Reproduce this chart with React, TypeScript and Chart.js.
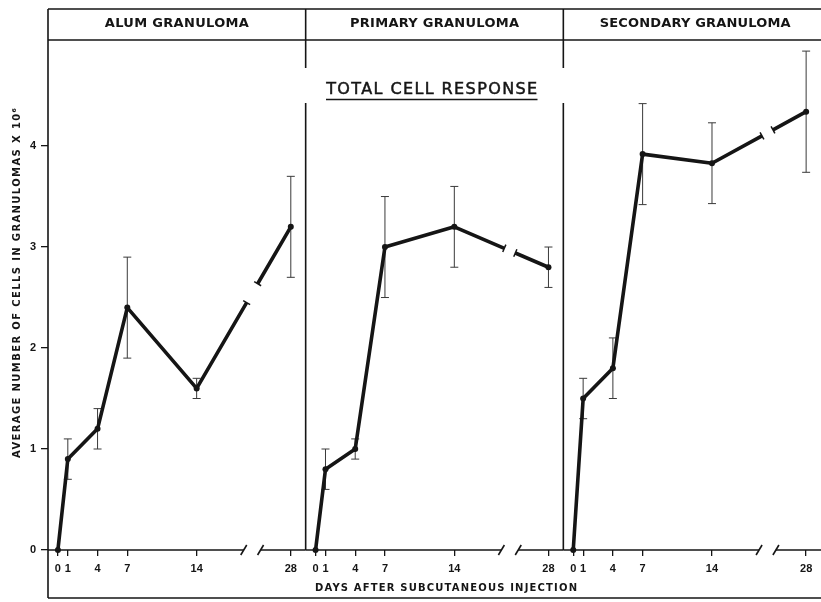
import React, { useEffect, useRef } from "react";
import { Chart, registerables } from "chart.js";

Chart.register(...registerables);

// ---------- data ----------
const DAYS = [0, 1, 4, 7, 14, 28];
const DAY_TICK_LABELS = ["0", "1", "4", "7", "14", "28"];
const PANEL_TITLES = ["ALUM GRANULOMA", "PRIMARY GRANULOMA", "SECONDARY GRANULOMA"];
const ALUM_MEAN = [0, 0.9, 1.2, 2.4, 1.6, 3.2];
const ALUM_ERR = [0, 0.2, 0.2, 0.5, 0.1, 0.5];
const PRIMARY_MEAN = [0, 0.8, 1.0, 3.0, 3.2, 2.8];
const PRIMARY_ERR = [0, 0.2, 0.1, 0.5, 0.4, 0.2];
const SECONDARY_MEAN = [0, 1.5, 1.8, 3.92, 3.83, 4.34];
const SECONDARY_ERR = [0, 0.2, 0.3, 0.5, 0.4, 0.6];
const Y_TICKS = [0, 1, 2, 3, 4];
const CHART_TITLE = "TOTAL CELL RESPONSE";
const Y_TITLE = "AVERAGE NUMBER OF CELLS IN GRANULOMAS X 10\u2076";
const X_TITLE = "DAYS AFTER SUBCUTANEOUS INJECTION";

const MEANS = [ALUM_MEAN, PRIMARY_MEAN, SECONDARY_MEAN];
const ERRS = [ALUM_ERR, PRIMARY_ERR, SECONDARY_ERR];

// ---------- broken axis mapping ----------
const PANEL_SPAN = 26; // axis units per panel
const DAY_OFFSET = 1; // day 0 sits 1 unit inside panel
const LINEAR_LIMIT = 14; // days up to 14 are drawn linearly
const COMPRESS = 9.5 / 14; // 14..28 compressed
const BREAK_CENTER = 19.6; // local axis units
const BREAK_HALF = 0.85;

function localPos(day: number) {
  return day <= LINEAR_LIMIT ? day : LINEAR_LIMIT + (day - LINEAR_LIMIT) * COMPRESS;
}
function axisPos(panel: number, day: number) {
  return panel * PANEL_SPAN + DAY_OFFSET + localPos(day);
}
function axisLocal(panel: number, local: number) {
  return panel * PANEL_SPAN + DAY_OFFSET + local;
}

const FONT = "'Liberation Sans', Arial, sans-serif";
const HEAVY = "'DejaVu Sans', 'Liberation Sans', sans-serif";

function fitText(
  ctx: CanvasRenderingContext2D,
  text: string,
  cx: number,
  cy: number,
  font: string,
  target: number,
  strokeW = 0
) {
  ctx.font = font;
  (ctx as any).letterSpacing = "0px";
  const w = ctx.measureText(text).width;
  const n = Array.from(text).length;
  const ls = (target - w) / Math.max(1, n - 1);
  (ctx as any).letterSpacing = ls + "px";
  ctx.textAlign = "left";
  ctx.textBaseline = "middle";
  ctx.fillText(text, cx - target / 2, cy);
  if (strokeW > 0) {
    ctx.lineWidth = strokeW;
    ctx.strokeStyle = ctx.fillStyle as string;
    ctx.strokeText(text, cx - target / 2, cy);
  }
  (ctx as any).letterSpacing = "0px";
}

export default function App() {
  const ref = useRef<HTMLCanvasElement>(null);

  useEffect(() => {
    const canvas = ref.current;
    if (!canvas) return;
    let live: any = null;

    const FRAME_LEFT = 48;
    const FRAME_TOP = 9;
    const FRAME_BOTTOM = 598;
    const DIV_GAP_TOP = 68;
    const DIV_GAP_BOTTOM = 103;
    const GAP_HALF_PX = 5.5;
    const INK = "#151515";

    const decor = {
      id: "decor",
      beforeInit(c: any) {
        live = c;
      },
      beforeDatasetsDraw(c: any) {
        const ctx: CanvasRenderingContext2D = c.ctx;
        const { top, bottom, right } = c.chartArea;
        const xs = c.scales.x;
        const ys = c.scales.y;
        const seg = (x1: number, y1: number, x2: number, y2: number) => {
          ctx.beginPath();
          ctx.moveTo(x1, y1);
          ctx.lineTo(x2, y2);
          ctx.stroke();
        };
        ctx.save();
        ctx.strokeStyle = INK;
        ctx.lineWidth = 1.6;
        ctx.lineCap = "butt";
        // outer frame + header box
        seg(FRAME_LEFT, FRAME_TOP, FRAME_LEFT, FRAME_BOTTOM);
        seg(FRAME_LEFT, FRAME_TOP, right, FRAME_TOP);
        seg(FRAME_LEFT, top, right, top);
        seg(FRAME_LEFT, FRAME_BOTTOM, right, FRAME_BOTTOM);
        // panel dividers
        for (let p = 1; p < 3; p++) {
          const x = xs.getPixelForValue(p * PANEL_SPAN);
          seg(x, FRAME_TOP, x, DIV_GAP_TOP);
          seg(x, DIV_GAP_BOTTOM, x, bottom);
        }
        // x axis with breaks
        for (let p = 0; p < 3; p++) {
          const x0 = xs.getPixelForValue(p * PANEL_SPAN);
          const x1 = xs.getPixelForValue((p + 1) * PANEL_SPAN);
          const b1 = xs.getPixelForValue(axisLocal(p, BREAK_CENTER - BREAK_HALF));
          const b2 = xs.getPixelForValue(axisLocal(p, BREAK_CENTER + BREAK_HALF));
          seg(x0, bottom, b1, bottom);
          seg(b2, bottom, x1, bottom);
          seg(b1 - 3, bottom + 5, b1 + 3, bottom - 5);
          seg(b2 - 3, bottom + 5, b2 + 3, bottom - 5);
        }
        // error bars
        ctx.strokeStyle = "#3a3a3a";
        ctx.lineWidth = 1;
        MEANS.forEach((mean, p) => {
          const meta = c.getDatasetMeta(p);
          mean.forEach((m, j) => {
            const e = ERRS[p][j];
            if (!e) return;
            const x = meta.data[j].x;
            const yt = ys.getPixelForValue(m + e);
            const yb = ys.getPixelForValue(m - e);
            seg(x, yt, x, yb);
            seg(x - 4, yt, x + 4, yt);
            seg(x - 4, yb, x + 4, yb);
          });
        });
        ctx.restore();
      },
      afterDatasetsDraw(c: any) {
        const ctx: CanvasRenderingContext2D = c.ctx;
        const xs = c.scales.x;
        ctx.save();
        ctx.strokeStyle = INK;
        ctx.lineWidth = 1.5;
        MEANS.forEach((_, p) => {
          const meta = c.getDatasetMeta(p);
          const pts = meta.data;
          for (let j = 0; j < pts.length - 1; j++) {
            const a = pts[j];
            const b = pts[j + 1];
            const cx = xs.getPixelForValue(axisLocal(p, BREAK_CENTER));
            if (!(a.x < cx && b.x > cx)) continue;
            const dx = b.x - a.x;
            const dy = b.y - a.y;
            const L = Math.hypot(dx, dy);
            const nx = -dy / L;
            const ny = dx / L;
            [cx - GAP_HALF_PX, cx + GAP_HALF_PX].forEach((gx) => {
              const t = (gx - a.x) / dx;
              const px = a.x + dx * t;
              const py = a.y + dy * t;
              ctx.beginPath();
              ctx.moveTo(px - nx * 4, py - ny * 4);
              ctx.lineTo(px + nx * 4, py + ny * 4);
              ctx.stroke();
            });
          }
        });
        ctx.restore();
      },
      afterDraw(c: any) {
        const ctx: CanvasRenderingContext2D = c.ctx;
        const xs = c.scales.x;
        ctx.save();
        ctx.fillStyle = INK;
        // panel headers
        const headerW = [144, 169, 191];
        PANEL_TITLES.forEach((t, p) => {
          const x0 = xs.getPixelForValue(p * PANEL_SPAN);
          const x1 = xs.getPixelForValue((p + 1) * PANEL_SPAN);
          fitText(ctx, t, (x0 + x1) / 2 + (p === 2 ? 3 : 0), 23.5, `bold 13px ${HEAVY}`, headerW[p]);
        });
        // chart title, underlined
        fitText(ctx, CHART_TITLE, 431.7, 89.5, `16px ${HEAVY}`, 211, 0.5);
        ctx.strokeStyle = INK;
        ctx.lineWidth = 1.4;
        ctx.beginPath();
        ctx.moveTo(326, 99.5);
        ctx.lineTo(537.5, 99.5);
        ctx.stroke();
        // x title
        fitText(ctx, X_TITLE, 446, 588, `bold 10px ${HEAVY}`, 262);
        // y title
        ctx.translate(17.5, 283);
        ctx.rotate(-Math.PI / 2);
        fitText(ctx, Y_TITLE, 0, 0, `bold 10px ${HEAVY}`, 350);
        ctx.restore();
      },
    };

    const xTickValues: number[] = [];
    const xTickLabels: string[] = [];
    for (let p = 0; p < 3; p++) {
      DAYS.forEach((d, j) => {
        xTickValues.push(axisPos(p, d));
        xTickLabels.push(DAY_TICK_LABELS[j]);
      });
    }

    const chart = new Chart(canvas, {
      type: "line",
      data: {
        datasets: MEANS.map((mean, p) => ({
          label: PANEL_TITLES[p],
          data: DAYS.map((d, j) => ({ x: axisPos(p, d), y: mean[j] })),
          borderColor: INK,
          borderWidth: 3.6,
          borderJoinStyle: "round",
          borderCapStyle: "butt",
          pointRadius: 3,
          pointBackgroundColor: INK,
          pointBorderWidth: 0,
          tension: 0,
          clip: false,
          segment: {
            borderDash: (sctx: any) => {
              const c = live || sctx.chart;
              if (!c || !c.scales || !c.scales.x) return undefined;
              const xs = c.scales.x;
              const a = sctx.p0;
              const b = sctx.p1;
              const cx = xs.getPixelForValue(axisLocal(sctx.datasetIndex, BREAK_CENTER));
              if (!(a.x < cx && b.x > cx)) return undefined;
              const dx = b.x - a.x;
              const L = Math.hypot(dx, b.y - a.y);
              const t1 = (cx - GAP_HALF_PX - a.x) / dx;
              const t2 = (cx + GAP_HALF_PX - a.x) / dx;
              return [t1 * L, (t2 - t1) * L, L * 2];
            },
          },
        })) as any,
      },
      options: {
        animation: false,
        responsive: false,
        maintainAspectRatio: false,
        layout: { autoPadding: false, padding: { top: 40, right: 0, bottom: 0, left: 0 } },
        plugins: {
          legend: { display: false },
          tooltip: { enabled: false },
          title: { display: false },
        },
        scales: {
          x: {
            type: "linear",
            min: 0,
            max: PANEL_SPAN * 3,
            border: { display: false },
            grid: {
              drawOnChartArea: false,
              drawTicks: true,
              tickLength: 6,
              color: INK,
              lineWidth: 1.3,
            },
            afterBuildTicks: (s: any) => {
              s.ticks = xTickValues.map((v) => ({ value: v }));
            },
            afterFit: (s: any) => {
              s.height = 52;
              s.paddingLeft = 0;
              s.paddingRight = 0;
            },
            ticks: {
              autoSkip: false,
              maxRotation: 0,
              minRotation: 0,
              padding: 6,
              color: INK,
              font: { family: FONT, size: 11, weight: "bold" },
              callback: (_v: any, i: number) => xTickLabels[i],
            },
          },
          y: {
            type: "linear",
            min: 0,
            max: 5.05,
            border: { display: false },
            grid: {
              drawOnChartArea: false,
              drawTicks: true,
              tickLength: 7,
              color: INK,
              lineWidth: 1.3,
            },
            afterBuildTicks: (s: any) => {
              s.ticks = Y_TICKS.map((v) => ({ value: v }));
            },
            afterFit: (s: any) => {
              s.width = 48;
              s.paddingTop = 0;
              s.paddingBottom = 0;
            },
            ticks: {
              padding: 5,
              color: INK,
              font: { family: FONT, size: 11, weight: "bold" },
              callback: (v: any) => String(v),
            },
          },
        },
      },
      plugins: [decor],
    } as any);

    return () => {
      chart.destroy();
    };
  }, []);

  return (
    <div style={{ position: "fixed", left: 0, top: 0, width: 821, height: 602, background: "#fff" }}>
      <canvas ref={ref} width={821} height={602} style={{ display: "block", width: 821, height: 602 }} />
    </div>
  );
}
